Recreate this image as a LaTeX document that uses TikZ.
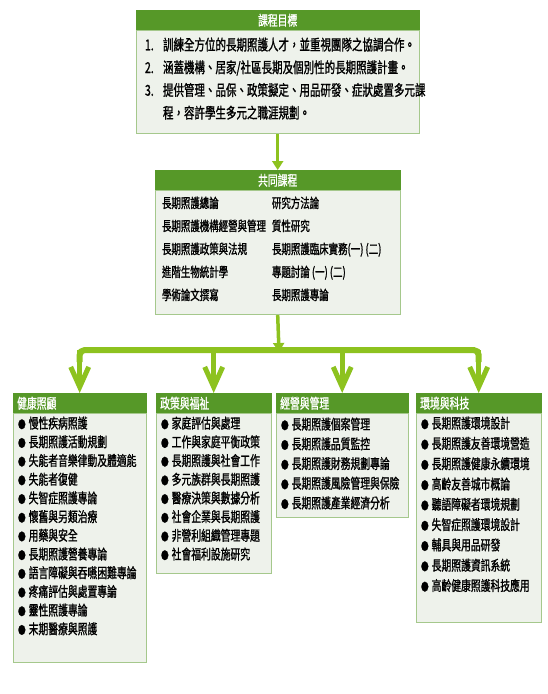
\documentclass[tikz,border=0pt]{standalone}
\usepackage{fontspec}
\setmainfont[FakeStretch=0.7, FakeBold=1.2]{Noto Sans CJK TC}
\usetikzlibrary{calc, positioning}
\usetikzlibrary{arrows.meta}

\definecolor{hdgreen}{RGB}{86,152,40}
\definecolor{arrgreen}{RGB}{141,194,31}
\definecolor{bodyfill}{RGB}{238,242,235}
\definecolor{edgegreen}{RGB}{165,200,140}

\newcommand{\blt}{{\fontsize{11}{11}\selectfont ●}\hspace{3pt}}

\tikzset{
  headbar/.style={fill=hdgreen, draw=hdgreen, text=white, font=\fontsize{14}{14}\selectfont,
    minimum height=20pt, inner ysep=0pt, inner xsep=4pt, align=left, anchor=north west},
  bodybox/.style={fill=bodyfill, draw=edgegreen, line width=0.8pt, inner sep=0pt, anchor=north},
  listtext/.style={align=left, inner sep=0pt, anchor=north west, font=\fontsize{14}{18.7}\selectfont},
  flowarrow/.style={draw=arrgreen, line width=3.5pt, -{Triangle[length=9pt, width=11pt]}},
  branch/.style={draw=arrgreen, line width=5pt, -{Straight Barb[length=20pt, width=18pt]}},
}

\begin{document}
\begin{tikzpicture}[x=1pt, y=-1pt]
\useasboundingbox (0,0) rectangle (548,694);

% goals
\node[headbar, text width=275pt, align=center] (goalhead) at (136,10) {課程目標};
\node[bodybox, minimum width=283pt, minimum height=103pt] (goalbody) at (goalhead.south) {};
\node[listtext, font=\fontsize{15}{22.7}\selectfont] (goallist) at ($(goalbody.north west)+(9,7)$)
  {\makebox[18pt][l]{1.}訓練全方位的長期照護人才，並重視團隊之協調合作。\\
   \makebox[18pt][l]{2.}涵蓋機構、居家/社區長期及個別性的長期照護計畫。\\
   \makebox[18pt][l]{3.}提供管理、品保、政策擬定、用品研發、症狀處置多元課\\
   \hspace*{18pt}程，容許學生多元之職涯規劃。};

% common courses
\node[headbar, text width=237pt, align=center] (commonhead) at (155,170) {共同課程};
\node[bodybox, minimum width=245pt, minimum height=124pt] (commonbody) at (commonhead.south) {};
\node[listtext, font=\fontsize{13.5}{23}\selectfont] (commonleft) at ($(commonbody.north west)+(7,6)$)
  {長期照護總論\\ 長期照護機構經營與管理\\ 長期照護政策與法規\\ 進階生物統計學\\ 學術論文撰寫};
\node[listtext, font=\fontsize{13.5}{23}\selectfont] (commonright) at ($(commonbody.north west)+(117,6)$)
  {研究方法論\\ 質性研究\\ 長期照護臨床實務(一) (二)\\ 專題討論 (一) (二)\\ 長期照護專論};

% four tracks
\node[headbar, text width=125pt] (carehead) at (13,393) {健康照顧};
\node[bodybox, minimum width=133pt, minimum height=249pt] (carebody) at (carehead.south) {};
\node[listtext] (carelist) at ($(carebody.north west)+(5,3)$)
  {\blt 慢性疾病照護\\ \blt 長期照護活動規劃\\ \blt 失能者音樂律動及體適能\\ \blt 失能者復健\\
   \blt 失智症照護專論\\ \blt 懷舊與另類治療\\ \blt 用藥與安全\\ \blt 長期照護營養專論\\
   \blt 語言障礙與吞嚥困難專論\\ \blt 疼痛評估與處置專論\\ \blt 靈性照護專論\\ \blt 末期醫療與照護};

\node[headbar, text width=107pt] (policyhead) at (156,393) {政策與福祉};
\node[bodybox, minimum width=115pt, minimum height=160pt] (policybody) at (policyhead.south) {};
\node[listtext] (policylist) at ($(policybody.north west)+(5,3)$)
  {\blt 家庭評估與處理\\ \blt 工作與家庭平衡政策\\ \blt 長期照護與社會工作\\ \blt 多元族群與長期照護\\
   \blt 醫療決策與數據分析\\ \blt 社會企業與長期照護\\ \blt 非營利組織管理專題\\ \blt 社會福利設施研究};

\node[headbar, text width=124pt] (mgmthead) at (276,393) {經營與管理};
\node[bodybox, minimum width=132pt, minimum height=104pt] (mgmtbody) at (mgmthead.south) {};
\node[listtext, font=\fontsize{14}{19.7}\selectfont] (mgmtlist) at ($(mgmtbody.north west)+(5,4)$)
  {\blt 長期照護個案管理\\ \blt 長期照護品質監控\\ \blt 長期照護財務規劃專論\\
   \blt 長期照護風險管理與保險\\ \blt 長期照護產業經濟分析};

\node[headbar, text width=117pt] (techhead) at (416,393) {環境與科技};
\node[bodybox, minimum width=125pt, minimum height=209pt] (techbody) at (techhead.south) {};
\node[listtext, font=\fontsize{14}{20.3}\selectfont] (techlist) at ($(techbody.north west)+(5,3)$)
  {\blt 長期照護環境設計\\ \blt 長期照護友善環境營造\\ \blt 長期照護健康永續環境\\
   \blt 高齡友善城市概論\\ \blt 聽語障礙者環境規劃\\ \blt 失智症照護環境設計\\
   \blt 輔具與用品研發\\ \blt 長期照護資訊系統\\ \blt 高齡健康照護科技應用};

% connectors
\coordinate (hub) at (279,350);
\draw[flowarrow] (goalbody.south) -- (commonhead.north);
\draw[draw=arrgreen, line width=6pt, rounded corners=5pt]
  ($(carehead.north |- hub)+(0,12)$) -- (carehead.north |- hub) -- (techhead.north |- hub)
  -- ($(techhead.north |- hub)+(0,12)$);
\draw[flowarrow] (commonbody.south) -- ($(hub)+(0,2)$);
\draw[branch] (carehead.north |- hub) -- (carehead.north);
\draw[branch] (policyhead.north |- hub) -- (policyhead.north);
\draw[branch] (mgmthead.north |- hub) -- (mgmthead.north);
\draw[branch] (techhead.north |- hub) -- (techhead.north);
\end{tikzpicture}
\end{document}
